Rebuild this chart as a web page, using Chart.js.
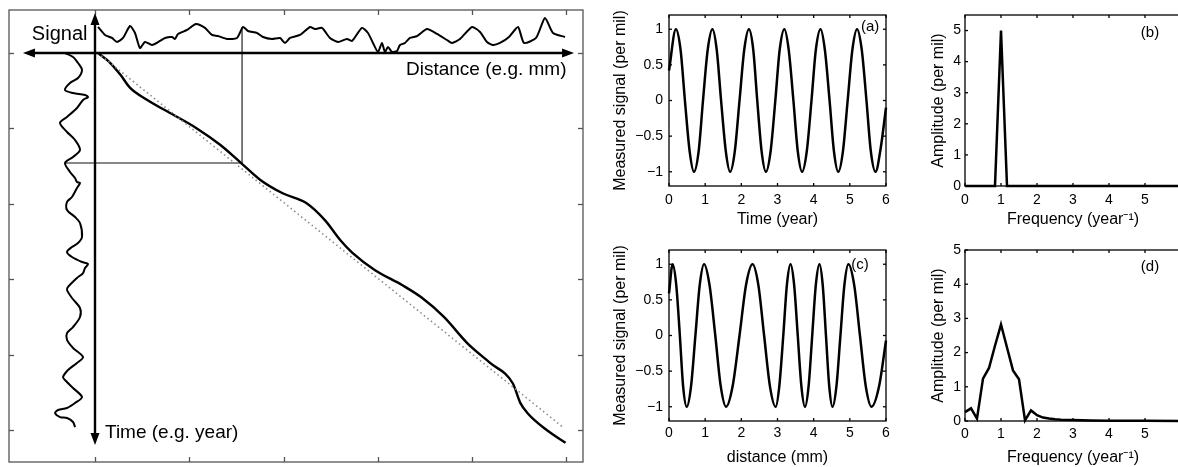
<!DOCTYPE html>
<html><head><meta charset="utf-8">
<script src="https://cdn.jsdelivr.net/npm/chart.js@4.4.0/dist/chart.umd.min.js"></script>
<style>
html,body{margin:0;padding:0;background:#fff;width:1178px;height:467px;overflow:hidden;position:relative}
canvas{position:absolute}
</style></head><body>
<canvas id="main" style="left:0;top:0" width="600" height="467"></canvas>
<canvas id="ca" style="left:600px;top:0" width="300" height="235"></canvas>
<canvas id="cb" style="left:890px;top:0" width="310" height="235"></canvas>
<canvas id="cc" style="left:600px;top:235px" width="300" height="232"></canvas>
<canvas id="cd" style="left:890px;top:235px" width="310" height="232"></canvas>
<script>
// ---------- Left schematic panel (distance vs time) ----------
const mainDist = [0.03,0.16,0.27,0.37,0.55,0.83,1.08,1.33,1.55,1.75,1.99,2.24,2.44,2.60,2.73,2.97,3.26,3.46,3.70,3.95,4.19,4.43,4.51,4.59,4.79,4.99];
const mainTime = [0.00,0.13,0.29,0.46,0.62,0.82,1.00,1.22,1.46,1.68,1.86,1.99,2.22,2.48,2.65,2.88,3.08,3.24,3.50,3.85,4.11,4.38,4.64,4.78,5.00,5.17];
const refDist = [0.03,4.96];
const refTime = [0.00,4.96];
const topSigDist = [0.032,0.106,0.180,0.233,0.297,0.371,0.424,0.477,0.530,0.604,0.689,0.742,0.817,0.848,0.880,0.976,1.071,1.166,1.241,1.304,1.400,1.506,1.569,1.622,1.718,1.782,1.877,1.962,2.015,2.068,2.174,2.280,2.333,2.407,2.492,2.577,2.672,2.725,2.831,2.895,2.948,3.001,3.043,3.075,3.107,3.150,3.203,3.234,3.287,3.340,3.415,3.521,3.627,3.733,3.786,3.871,3.998,4.083,4.157,4.221,4.295,4.390,4.486,4.549,4.677,4.772,4.857,4.984];
const topSigVal = [-0.345,-0.239,-0.199,-0.146,-0.199,-0.358,-0.265,-0.066,-0.146,-0.106,-0.159,-0.199,-0.212,-0.186,-0.252,-0.305,-0.385,-0.332,-0.239,-0.225,-0.186,-0.199,-0.345,-0.292,-0.265,-0.212,-0.186,-0.199,-0.133,-0.199,-0.239,-0.345,-0.318,-0.332,-0.199,-0.146,-0.186,-0.159,-0.332,-0.265,-0.133,-0.013,-0.133,-0.013,-0.080,-0.013,-0.027,-0.106,-0.133,-0.199,-0.225,-0.318,-0.252,-0.172,-0.133,-0.186,-0.345,-0.279,-0.146,-0.106,-0.133,-0.212,-0.345,-0.133,-0.199,-0.464,-0.265,-0.212];
const leftSigVal = [-0.318,-0.233,-0.180,-0.138,-0.180,-0.265,-0.318,-0.233,-0.106,-0.074,-0.127,-0.191,-0.297,-0.371,-0.297,-0.212,-0.159,-0.233,-0.318,-0.265,-0.212,-0.191,-0.159,-0.191,-0.244,-0.297,-0.297,-0.212,-0.159,-0.138,-0.180,-0.244,-0.297,-0.244,-0.138,-0.074,-0.106,-0.127,-0.191,-0.286,-0.297,-0.244,-0.159,-0.159,-0.233,-0.297,-0.297,-0.233,-0.127,-0.191,-0.286,-0.339,-0.318,-0.233,-0.138,-0.212,-0.297,-0.392,-0.424,-0.371,-0.297,-0.233,-0.212];
const leftSigTime = [0.000,0.053,0.133,0.225,0.332,0.398,0.491,0.531,0.557,0.584,0.623,0.729,0.849,0.928,1.048,1.154,1.286,1.379,1.459,1.578,1.658,1.711,1.724,1.790,1.910,1.976,2.082,2.175,2.255,2.440,2.520,2.573,2.639,2.706,2.772,2.798,2.851,2.918,2.984,3.103,3.143,3.249,3.382,3.501,3.634,3.714,3.806,3.912,4.032,4.111,4.204,4.297,4.337,4.443,4.562,4.642,4.708,4.735,4.775,4.828,4.841,4.894,4.960];
const guideDist = [-0.318,1.56];   // horizontal guide
const guideTime = [-0.345,1.459];  // vertical guide
const schematicTicks = [0,1,2,3,4,5];
const distArrow = [-0.764,5.08];
const timeArrow = [-0.53,5.2];

// ---------- Panel (a) ----------
const timeA = [0,0.19,0.32,0.44,0.57,0.69,0.82,0.94,1.07,1.20,1.32,1.44,1.57,1.69,1.82,1.95,2.08,2.21,2.33,2.44,2.56,2.68,2.81,2.94,3.06,3.19,3.31,3.44,3.56,3.68,3.81,3.94,4.06,4.19,4.31,4.44,4.56,4.68,4.81,4.94,5.07,5.20,5.33,5.46,5.58,5.71,5.85,6.0];
const signalA = [0.42,1,0.71,0,-0.71,-1,-0.71,0,0.71,1,0.71,0,-0.71,-1,-0.71,0,0.71,1,0.71,0,-0.71,-1,-0.71,0,0.71,1,0.71,0,-0.71,-1,-0.71,0,0.71,1,0.71,0,-0.71,-1,-0.71,0,0.71,1,0.71,0,-0.71,-1,-0.68,-0.1];
// ---------- Panel (c) ----------
const distC = [0,0.10,0.20,0.30,0.39,0.49,0.61,0.73,0.85,0.97,1.12,1.28,1.43,1.58,1.76,1.95,2.13,2.31,2.47,2.63,2.79,2.95,3.05,3.16,3.26,3.36,3.46,3.56,3.66,3.76,3.86,3.96,4.06,4.16,4.25,4.34,4.43,4.52,4.63,4.74,4.85,4.96,5.12,5.28,5.44,5.60,5.81,6.0];
const signalC = [0.59,1,0.71,0,-0.71,-1,-0.71,0,0.71,1,0.71,0,-0.71,-1,-0.71,0,0.71,1,0.71,0,-0.71,-1,-0.71,0,0.71,1,0.71,0,-0.71,-1,-0.71,0,0.71,1,0.71,0,-0.71,-1,-0.71,0,0.71,1,0.71,0,-0.71,-1,-0.71,-0.07];
// ---------- Panel (b) ----------
const freqB = [0,0.833,1.0,1.167,6];
const ampB = [0,0,5,0,0];
// ---------- Panel (d) ----------
const freqD = [0,0.167,0.333,0.5,0.667,0.833,1.0,1.167,1.333,1.5,1.667,1.833,2.0,2.167,2.333,2.5,2.667,3.0,3.5,4.0,5.0,6.0];
const ampD = [0.26,0.37,0.07,1.24,1.55,2.2,2.82,2.15,1.48,1.22,0.02,0.31,0.17,0.10,0.07,0.05,0.04,0.03,0.015,0.01,0.005,0.0];

const signalTicks = [-1,-0.5,0,0.5,1];
const timeTicks = [0,1,2,3,4,5,6];
const freqTicks = [0,1,2,3,4,5];
const ampTicksB = [0,1,2,3,4,5];
const ampTicksD = [0,1,2,3,4,5];

const FONT = "'Liberation Sans', Arial, Helvetica, sans-serif";
const pts = (xs, ys) => xs.map((x, i) => ({x, y: ys[i]}));

function line(ctx, x1, y1, x2, y2) { ctx.beginPath(); ctx.moveTo(x1, y1); ctx.lineTo(x2, y2); ctx.stroke(); }
function head(ctx, x, y, dx, dy) {
  const L = 12, W = 4.5, px = -dy, py = dx;
  ctx.beginPath();
  ctx.moveTo(x, y);
  ctx.lineTo(x - dx * L + px * W, y - dy * L + py * W);
  ctx.lineTo(x - dx * L - px * W, y - dy * L - py * W);
  ctx.closePath(); ctx.fill();
}

const mainDecor = {
  id: 'mainDecor',
  afterDatasetsDraw(chart) {
    const {ctx, chartArea: a, scales: {x, y}} = chart;
    ctx.save();
    // frame
    ctx.strokeStyle = '#555'; ctx.lineWidth = 1.3;
    ctx.strokeRect(a.left, a.top, a.right - a.left, a.bottom - a.top);
    schematicTicks.forEach(v => {
      const px = Math.round(x.getPixelForValue(v)) + 0.5;
      line(ctx, px, a.top, px, a.top + 5); line(ctx, px, a.bottom, px, a.bottom - 5);
      const py = Math.round(y.getPixelForValue(v)) + 0.5;
      line(ctx, a.left, py, a.left + 5, py); line(ctx, a.right, py, a.right - 5, py);
    });
    // arrows (axes)
    ctx.strokeStyle = '#000'; ctx.fillStyle = '#000'; ctx.lineWidth = 2.4;
    const y0 = y.getPixelForValue(0), xa = x.getPixelForValue(distArrow[0]), xb = x.getPixelForValue(distArrow[1]);
    line(ctx, xa + 6, y0, xb - 6, y0); head(ctx, xa, y0, -1, 0); head(ctx, xb, y0, 1, 0);
    const x0 = x.getPixelForValue(0), ya = y.getPixelForValue(timeArrow[0]), yb = y.getPixelForValue(timeArrow[1]);
    line(ctx, x0, ya + 6, x0, yb - 6); head(ctx, x0, ya, 0, -1); head(ctx, x0, yb, 0, 1);
    // labels
    ctx.textBaseline = 'middle';
    ctx.font = '20px ' + FONT; ctx.textAlign = 'right';
    ctx.fillText('Signal', x.getPixelForValue(-0.08), y.getPixelForValue(-0.24));
    ctx.font = '19px ' + FONT;
    ctx.fillText('Distance (e.g. mm)', x.getPixelForValue(5.0), y.getPixelForValue(0.225));
    ctx.textAlign = 'left';
    ctx.fillText('Time (e.g. year)', x.getPixelForValue(0.106), y.getPixelForValue(5.03));
    ctx.restore();
  }
};

new Chart(document.getElementById('main'), {
  type: 'scatter',
  data: {datasets: [
    {data: pts(refDist, refTime), showLine: true, borderColor: '#8a8a8a', borderWidth: 1.6, borderDash: [1.5, 3], pointRadius: 0},
    {data: pts(mainDist, mainTime), showLine: true, borderColor: '#000', borderWidth: 2.4, pointRadius: 0, cubicInterpolationMode: 'monotone'},
    {data: pts(topSigDist, topSigVal), showLine: true, borderColor: '#000', borderWidth: 2, pointRadius: 0, tension: 0.2},
    {data: pts(leftSigVal, leftSigTime), showLine: true, borderColor: '#000', borderWidth: 2, pointRadius: 0, tension: 0.3},
    {data: [{x: guideDist[0], y: guideTime[1]}, {x: guideDist[1], y: guideTime[1]}], showLine: true, borderColor: '#111', borderWidth: 1, pointRadius: 0},
    {data: [{x: guideDist[1], y: guideTime[0]}, {x: guideDist[1], y: guideTime[1]}], showLine: true, borderColor: '#666', borderWidth: 1, pointRadius: 0}
  ]},
  options: {
    responsive: false, animation: false, events: [],
    layout: {padding: {left: 9, top: 10, right: 17, bottom: 5}},
    plugins: {legend: {display: false}, tooltip: {enabled: false}},
    scales: {
      x: {type: 'linear', display: false, min: -0.912, max: 5.175},
      y: {type: 'linear', display: false, min: -0.57, max: 5.424, reverse: true}
    }
  },
  plugins: [mainDecor]
});

const framePlugin = {
  id: 'frame',
  afterDraw(chart, args, o) {
    const {ctx, chartArea: a, scales: {x, y}} = chart;
    ctx.save();
    ctx.strokeStyle = '#000'; ctx.lineWidth = 1.3;
    ctx.strokeRect(a.left, a.top, a.right - a.left, a.bottom - a.top);
    o.xt.forEach(v => {
      const px = x.getPixelForValue(v);
      line(ctx, px, a.bottom, px, a.bottom - 3); line(ctx, px, a.top, px, a.top + 3);
    });
    o.yt.forEach(v => {
      const py = y.getPixelForValue(v);
      line(ctx, a.left, py, a.left + 3, py); line(ctx, a.right, py, a.right - 3, py);
    });
    ctx.fillStyle = '#000'; ctx.font = '15px ' + FONT; ctx.textAlign = 'center'; ctx.textBaseline = 'middle';
    ctx.fillText(o.label, x.getPixelForValue(o.lx), y.getPixelForValue(o.ly));
    ctx.restore();
  }
};

function small(id, xs, ys, c) {
  return new Chart(document.getElementById(id), {
    type: 'scatter',
    data: {datasets: [{data: pts(xs, ys), showLine: true, borderColor: '#000', borderWidth: 2.5, pointRadius: 0,
      cubicInterpolationMode: c.smooth ? 'monotone' : 'default', tension: 0, clip: false}]},
    options: {
      responsive: false, animation: false, events: [],
      layout: {padding: {left: 0, right: c.padRight, top: c.padTop, bottom: 0}},
      plugins: {legend: {display: false}, tooltip: {enabled: false},
        frame: {xt: c.xTickMarks, yt: c.yTicks, label: c.label, lx: c.lx, ly: c.ly}},
      scales: {
        x: {type: 'linear', min: 0, max: 6,
          afterBuildTicks: s => { s.ticks = c.xTicks.map(v => ({value: v})); },
          afterFit: s => { s.height = c.xH; },
          grid: {display: false, drawTicks: false}, border: {display: false},
          ticks: {color: '#000', padding: c.xTickPad, maxRotation: 0, font: {family: FONT, size: 14}},
          title: {display: true, text: c.xTitle, color: '#000', font: {family: FONT, size: 16}, padding: {top: 0, bottom: c.xTitlePad}}},
        y: {type: 'linear', min: c.yMin, max: c.yMax,
          afterBuildTicks: s => { s.ticks = c.yTicks.map(v => ({value: v})); },
          afterFit: s => { s.width = c.yW; },
          grid: {display: false, drawTicks: false}, border: {display: false},
          ticks: {color: '#000', padding: c.yTickPad, font: {family: FONT, size: 14},
            callback: v => String(v).replace('-', '\u2212')},
          title: {display: true, text: c.yTitle, color: '#000', font: {family: FONT, size: 16}, padding: {top: c.yTitlePad, bottom: 0}}}
      }
    },
    plugins: [framePlugin]
  });
}

small('ca', timeA, signalA, {smooth: true, padRight: 14, padTop: 15, xH: 49, yW: 69, xTicks: timeTicks, xTickMarks: timeTicks,
  yTicks: signalTicks, yMin: -1.2, yMax: 1.2, xTickPad: 5.6, xTitlePad: 5.4, yTickPad: 6, yTitlePad: 11.4,
  xTitle: 'Time (year)', yTitle: 'Measured signal (per mil)', label: '(a)', lx: 5.56, ly: 1.03});
small('cc', distC, signalC, {smooth: true, padRight: 14, padTop: 15, xH: 46, yW: 69, xTicks: timeTicks, xTickMarks: timeTicks,
  yTicks: signalTicks, yMin: -1.2, yMax: 1.2, xTickPad: 3.6, xTitlePad: 0, yTickPad: 6, yTitlePad: 11.4,
  xTitle: 'distance (mm)', yTitle: 'Measured signal (per mil)', label: '(c)', lx: 5.28, ly: 0.99});
small('cb', freqB, ampB, {smooth: false, padRight: 19, padTop: 15, xH: 49, yW: 75, xTicks: freqTicks, xTickMarks: timeTicks,
  yTicks: ampTicksB, yMin: 0, yMax: 5.5, xTickPad: 5.6, xTitlePad: 5.4, yTickPad: 4, yTitlePad: 39.4,
  xTitle: 'Frequency (year\u207B\u00B9)', yTitle: 'Amplitude (per mil)', label: '(b)', lx: 5.14, ly: 4.91});
small('cd', freqD, ampD, {smooth: false, padRight: 19, padTop: 15, xH: 46, yW: 75, xTicks: freqTicks, xTickMarks: timeTicks,
  yTicks: ampTicksD, yMin: 0, yMax: 5, xTickPad: 4.6, xTitlePad: 0, yTickPad: 4, yTitlePad: 39.4,
  xTitle: 'Frequency (year\u207B\u00B9)', yTitle: 'Amplitude (per mil)', label: '(d)', lx: 5.14, ly: 4.51});
</script>
</body></html>
